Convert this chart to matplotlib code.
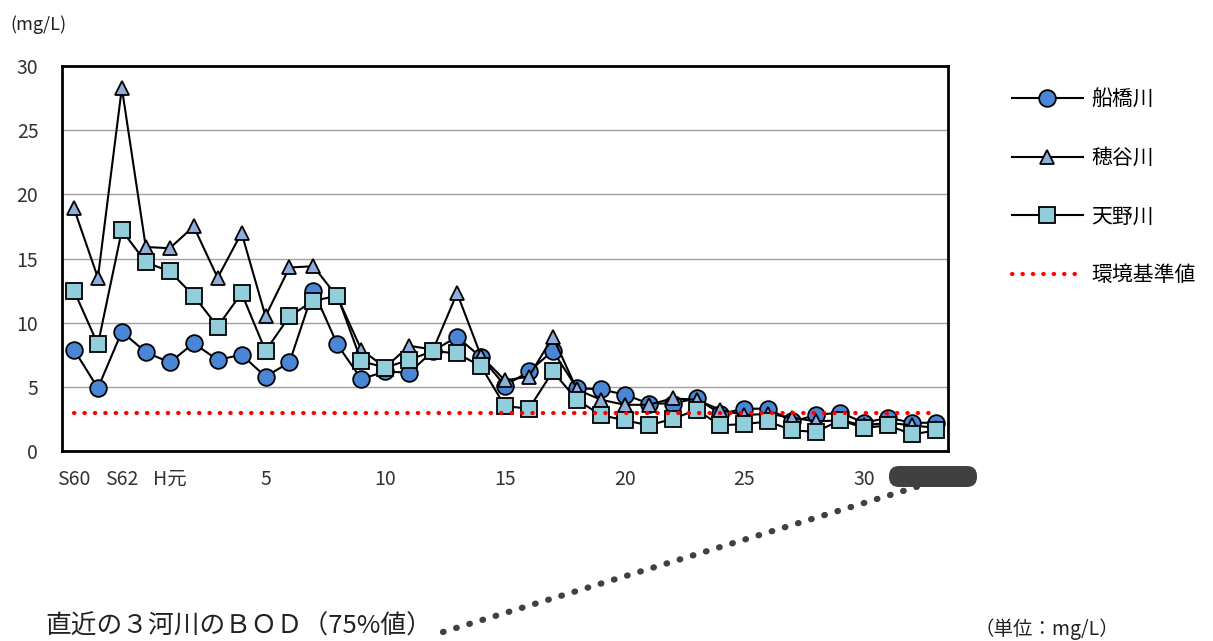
import matplotlib
matplotlib.use("Agg")
import matplotlib.pyplot as plt
from matplotlib.patches import FancyBboxPatch
from matplotlib.lines import Line2D

plt.rcParams['font.family'] = ['Noto Sans CJK JP', 'DejaVu Sans']

# --- Data (BOD 75% value, mg/L) ---
years = (["S60", "S61", "S62", "S63", "H元"]
         + [str(i) for i in range(2, 31)]
         + ["R1", "R2", "R3"])
funabashi = [7.9, 4.9, 9.3, 7.7, 6.9, 8.4, 7.1, 7.5, 5.8, 6.9, 12.5, 8.3, 5.6,
             6.2, 6.1, 7.8, 8.9, 7.3, 5.1, 6.2, 7.8, 4.9, 4.8, 4.4, 3.7,
             3.7, 4.1, 2.9, 3.3, 3.3, 2.3, 2.8, 3.0, 2.2, 2.6, 2.2, 2.2]
hotani = [18.9, 13.5, 28.3, 15.9, 15.8, 17.5, 13.5, 17.0, 10.5, 14.3, 14.4, 12.0, 7.9,
          6.5, 8.2, 7.9, 12.3, 7.4, 5.5, 5.8, 8.9, 4.8, 4.0, 3.6, 3.6,
          4.1, 4.0, 3.2, 2.8, 2.9, 2.6, 2.3, 2.4, 2.0, 2.2, 2.0, 1.8]
amano = [12.5, 8.3, 17.2, 14.7, 14.0, 12.1, 9.7, 12.3, 7.8, 10.5, 11.7, 12.1, 7.0,
         6.5, 7.1, 7.8, 7.6, 6.6, 3.5, 3.3, 6.2, 4.0, 2.8, 2.4, 2.0,
         2.5, 3.2, 2.0, 2.1, 2.3, 1.6, 1.5, 2.4, 1.8, 2.0, 1.3, 1.6]
standard = 3.0
shown_ticks = ["S60", "S62", "H元", "5", "10", "15", "20", "25", "30"]
y_ticks = [0, 5, 10, 15, 20, 25, 30]

x = list(range(len(years)))

circle_style = dict(color="black", lw=1.5, marker="o", ms=12,
                    mfc="#4A86D6", mec="black", mew=1.3)
tri_style = dict(color="black", lw=1.5, marker="^", ms=9.5,
                 mfc="#8EAEDC", mec="black", mew=1.3)
sq_style = dict(color="black", lw=1.5, marker="s", ms=12,
                mfc="#92CDDC", mec="black", mew=1.3)
std_style = dict(color="#FF0000", lw=3.0, linestyle=(0, (0.1, 2.4)),
                 dash_capstyle="round")

fig = plt.figure(figsize=(12.13, 6.41), dpi=100)

# overlay in pixel units for the annotation shapes
over = fig.add_axes([0, 0, 1, 1], zorder=10)
over.set_xlim(0, 1213)
over.set_ylim(641, 0)
over.axis("off")
over.patch.set_alpha(0)

ax = fig.add_axes([0.0511, 0.2964, 0.7304, 0.6006])

# --- Series ---
ax.plot(x, funabashi, zorder=3, **circle_style)
ax.plot(x, hotani, zorder=4, **tri_style)
ax.plot(x, amano, zorder=5, **sq_style)
ax.plot(x, [standard] * len(x), zorder=6, **std_style)

# --- Axes styling ---
ax.set_xlim(-0.5, len(years) - 0.5)
ax.set_ylim(0, 30)
ax.set_yticks(y_ticks)
ax.set_yticklabels([str(v) for v in y_ticks], fontsize=14, color="#333333")
tick_pos = [years.index(t) for t in shown_ticks]
ax.set_xticks(tick_pos)
ax.set_xticklabels(shown_ticks, fontsize=14, color="#333333")
ax.tick_params(length=0)
ax.tick_params(axis="x", pad=13)
ax.tick_params(axis="y", pad=17)
ax.grid(axis="y", color="#A0A0A0", lw=1.0)
ax.set_axisbelow(True)
for s in ax.spines.values():
    s.set_linewidth(2.0)
    s.set_color("black")

fig.text(10 / 1213, 1 - 25 / 641, "(mg/L)", fontsize=13, va="center", color="#222222")

# --- Legend ---
handles = [Line2D([], [], **circle_style), Line2D([], [], **tri_style),
           Line2D([], [], **sq_style), Line2D([], [], **std_style)]
fig.legend(handles, ["船橋川", "穂谷川", "天野川", "環境基準値"],
           loc="upper left", bbox_to_anchor=(993 / 1213, 1 - 70 / 641),
           frameon=False, fontsize=15, handlelength=3.4, labelspacing=1.75,
           handletextpad=0.4)

# --- Annotation: redacted block and dotted leader ---
over.add_patch(FancyBboxPatch((889, 466), 88, 21,
                              boxstyle="round,pad=0,rounding_size=10",
                              facecolor="#404040", edgecolor="none"))
over.plot([443, 926], [632, 484], color="#404040", lw=4.5,
          linestyle=(0, (0.1, 2.1)), dash_capstyle="round")

fig.text(45 / 1213, 1 / 641, "直近の３河川のＢＯＤ（75%値）", fontsize=18.5,
         va="bottom", color="#222222")
fig.text(975 / 1213, 1 / 641, "（単位：mg/L）", fontsize=14,
         va="bottom", color="#222222")

fig.savefig("out.png", dpi=100)
